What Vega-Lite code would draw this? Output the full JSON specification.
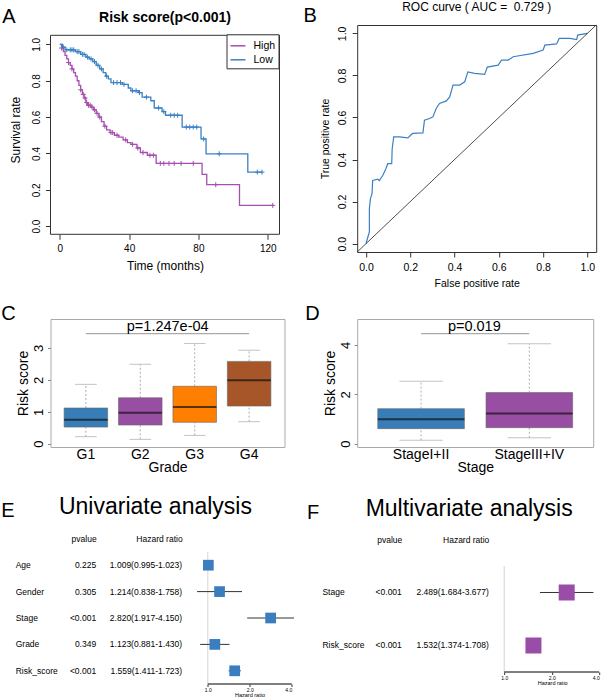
{
"$schema": "https://vega.github.io/schema/vega-lite/v6.json",
"padding": {"left": 0.5, "top": 0, "right": 0, "bottom": 0},
"config": {"font": "Liberation Sans", "view": {"stroke": null}, "axis": {"grid": false, "labelColor": "#000", "titleColor": "#000", "titleFontWeight": "normal", "domainColor": "#000", "tickColor": "#333", "labelFont": "Liberation Sans", "titleFont": "Liberation Sans"}, "title": {"font": "Liberation Sans", "color": "#000"}, "text": {"font": "Liberation Sans", "color": "#000"}},
"datasets": {
"km": [
{"g":"High","t":0,"s":1.0},{"g":"High","t":1,"s":0.98},{"g":"High","t":2,"s":0.96},{"g":"High","t":3,"s":0.94},{"g":"High","t":4,"s":0.92},{"g":"High","t":5,"s":0.90},{"g":"High","t":6,"s":0.885},{"g":"High","t":7,"s":0.865},{"g":"High","t":8,"s":0.845},{"g":"High","t":9,"s":0.825},{"g":"High","t":10,"s":0.80},{"g":"High","t":11,"s":0.775},{"g":"High","t":12,"s":0.75},{"g":"High","t":13,"s":0.725},{"g":"High","t":14,"s":0.705},{"g":"High","t":15,"s":0.68},{"g":"High","t":16,"s":0.665},{"g":"High","t":18,"s":0.655},{"g":"High","t":19.5,"s":0.64},{"g":"High","t":21,"s":0.62},{"g":"High","t":22.5,"s":0.60},{"g":"High","t":24,"s":0.575},{"g":"High","t":25.5,"s":0.55},{"g":"High","t":27,"s":0.53},{"g":"High","t":29,"s":0.515},{"g":"High","t":31.5,"s":0.50},{"g":"High","t":34,"s":0.49},{"g":"High","t":36.5,"s":0.475},{"g":"High","t":39,"s":0.46},{"g":"High","t":41,"s":0.45},{"g":"High","t":44.5,"s":0.43},{"g":"High","t":46.5,"s":0.405},{"g":"High","t":50.5,"s":0.39},{"g":"High","t":55.6,"s":0.345},{"g":"High","t":82.1,"s":0.285},{"g":"High","t":84.8,"s":0.228},{"g":"High","t":103.7,"s":0.114},{"g":"High","t":122.9,"s":0.114},
{"g":"Low","t":0,"s":1.0},{"g":"Low","t":1.5,"s":0.985},{"g":"Low","t":3,"s":0.97},{"g":"Low","t":9,"s":0.96},{"g":"Low","t":12,"s":0.945},{"g":"Low","t":15,"s":0.93},{"g":"Low","t":17,"s":0.92},{"g":"Low","t":19,"s":0.905},{"g":"Low","t":21,"s":0.885},{"g":"Low","t":23,"s":0.865},{"g":"Low","t":25,"s":0.845},{"g":"Low","t":26.5,"s":0.825},{"g":"Low","t":28,"s":0.81},{"g":"Low","t":29.5,"s":0.79},{"g":"Low","t":36,"s":0.78},{"g":"Low","t":39.5,"s":0.76},{"g":"Low","t":41,"s":0.745},{"g":"Low","t":45.5,"s":0.735},{"g":"Low","t":47.5,"s":0.71},{"g":"Low","t":52.5,"s":0.69},{"g":"Low","t":54.5,"s":0.65},{"g":"Low","t":59,"s":0.63},{"g":"Low","t":61,"s":0.61},{"g":"Low","t":70.6,"s":0.545},{"g":"Low","t":81.5,"s":0.48},{"g":"Low","t":84.4,"s":0.398},{"g":"Low","t":108.5,"s":0.297},{"g":"Low","t":116.7,"s":0.297}
],
"cens": [
{"g":"High","t":1,"s":0.98},{"g":"High","t":5,"s":0.90},{"g":"High","t":7,"s":0.865},{"g":"High","t":12,"s":0.75},{"g":"High","t":13.5,"s":0.725},{"g":"High","t":14.5,"s":0.705},{"g":"High","t":15.5,"s":0.68},{"g":"High","t":16.5,"s":0.665},{"g":"High","t":17.5,"s":0.665},{"g":"High","t":18.5,"s":0.655},{"g":"High","t":20,"s":0.64},{"g":"High","t":21.5,"s":0.62},{"g":"High","t":23,"s":0.60},{"g":"High","t":26,"s":0.55},{"g":"High","t":29.5,"s":0.515},{"g":"High","t":30.5,"s":0.515},{"g":"High","t":33,"s":0.50},{"g":"High","t":38,"s":0.475},{"g":"High","t":42,"s":0.45},{"g":"High","t":45,"s":0.43},{"g":"High","t":48,"s":0.405},{"g":"High","t":52,"s":0.39},{"g":"High","t":54,"s":0.39},{"g":"High","t":58,"s":0.345},{"g":"High","t":60,"s":0.345},{"g":"High","t":63,"s":0.345},{"g":"High","t":66,"s":0.345},{"g":"High","t":70,"s":0.345},{"g":"High","t":77,"s":0.345},{"g":"High","t":90,"s":0.228},{"g":"High","t":122.9,"s":0.114},
{"g":"Low","t":2,"s":0.985},{"g":"Low","t":4,"s":0.97},{"g":"Low","t":6,"s":0.97},{"g":"Low","t":7,"s":0.97},{"g":"Low","t":8,"s":0.97},{"g":"Low","t":10,"s":0.96},{"g":"Low","t":11,"s":0.96},{"g":"Low","t":13,"s":0.945},{"g":"Low","t":14,"s":0.945},{"g":"Low","t":16,"s":0.93},{"g":"Low","t":18,"s":0.92},{"g":"Low","t":20,"s":0.905},{"g":"Low","t":22,"s":0.885},{"g":"Low","t":24,"s":0.865},{"g":"Low","t":27,"s":0.825},{"g":"Low","t":31,"s":0.79},{"g":"Low","t":33,"s":0.79},{"g":"Low","t":35,"s":0.79},{"g":"Low","t":37,"s":0.78},{"g":"Low","t":42,"s":0.745},{"g":"Low","t":44,"s":0.745},{"g":"Low","t":46,"s":0.735},{"g":"Low","t":50,"s":0.71},{"g":"Low","t":57,"s":0.65},{"g":"Low","t":60,"s":0.63},{"g":"Low","t":64,"s":0.61},{"g":"Low","t":66,"s":0.61},{"g":"Low","t":68,"s":0.61},{"g":"Low","t":73,"s":0.545},{"g":"Low","t":75,"s":0.545},{"g":"Low","t":77,"s":0.545},{"g":"Low","t":79,"s":0.545},{"g":"Low","t":83,"s":0.48},{"g":"Low","t":92,"s":0.398},{"g":"Low","t":114,"s":0.297},{"g":"Low","t":116.7,"s":0.297}
],
"roc": [
{"i":0,"fpr":0,"tpr":0},{"i":1,"fpr":0.008,"tpr":0.03},{"i":2,"fpr":0.015,"tpr":0.056},{"i":3,"fpr":0.015,"tpr":0.167},{"i":4,"fpr":0.02,"tpr":0.214},{"i":5,"fpr":0.027,"tpr":0.238},{"i":6,"fpr":0.03,"tpr":0.30},{"i":7,"fpr":0.053,"tpr":0.306},{"i":8,"fpr":0.06,"tpr":0.30},{"i":9,"fpr":0.076,"tpr":0.325},{"i":10,"fpr":0.09,"tpr":0.357},{"i":11,"fpr":0.098,"tpr":0.38},{"i":12,"fpr":0.116,"tpr":0.38},{"i":13,"fpr":0.118,"tpr":0.45},{"i":14,"fpr":0.125,"tpr":0.508},{"i":15,"fpr":0.151,"tpr":0.508},{"i":16,"fpr":0.189,"tpr":0.503},{"i":17,"fpr":0.21,"tpr":0.524},{"i":18,"fpr":0.257,"tpr":0.527},{"i":19,"fpr":0.264,"tpr":0.587},{"i":20,"fpr":0.287,"tpr":0.595},{"i":21,"fpr":0.302,"tpr":0.603},{"i":22,"fpr":0.317,"tpr":0.643},{"i":23,"fpr":0.332,"tpr":0.667},{"i":24,"fpr":0.363,"tpr":0.679},{"i":25,"fpr":0.378,"tpr":0.698},{"i":26,"fpr":0.393,"tpr":0.754},{"i":27,"fpr":0.423,"tpr":0.754},{"i":28,"fpr":0.446,"tpr":0.77},{"i":29,"fpr":0.46,"tpr":0.817},{"i":30,"fpr":0.49,"tpr":0.81},{"i":31,"fpr":0.536,"tpr":0.805},{"i":32,"fpr":0.548,"tpr":0.84},{"i":33,"fpr":0.597,"tpr":0.849},{"i":34,"fpr":0.612,"tpr":0.873},{"i":35,"fpr":0.642,"tpr":0.873},{"i":36,"fpr":0.665,"tpr":0.889},{"i":37,"fpr":0.755,"tpr":0.905},{"i":38,"fpr":0.80,"tpr":0.921},{"i":39,"fpr":0.808,"tpr":0.944},{"i":40,"fpr":0.861,"tpr":0.95},{"i":41,"fpr":0.873,"tpr":0.976},{"i":42,"fpr":0.921,"tpr":0.976},{"i":43,"fpr":0.952,"tpr":0.971},{"i":44,"fpr":0.956,"tpr":0.992},{"i":45,"fpr":1,"tpr":1}
],
"boxC": [
{"grade":"G1","lower":0.22,"q1":0.52,"median":0.75,"q3":1.12,"upper":1.86},
{"grade":"G2","lower":0.136,"q1":0.585,"median":0.97,"q3":1.44,"upper":2.49},
{"grade":"G3","lower":0.26,"q1":0.67,"median":1.15,"q3":1.80,"upper":3.14},
{"grade":"G4","lower":0.69,"q1":1.18,"median":1.99,"q3":2.58,"upper":2.93}
],
"boxD": [
{"stage":"StageI+II","lower":0.135,"q1":0.61,"median":0.99,"q3":1.42,"upper":2.53},
{"stage":"StageIII+IV","lower":0.24,"q1":0.65,"median":1.22,"q3":2.07,"upper":4.05}
],
"uni": [
{"var":"Age","pvalue":"0.225","hr":"1.009(0.995-1.023)","est":1.009,"lo":0.995,"hi":1.023},
{"var":"Gender","pvalue":"0.305","hr":"1.214(0.838-1.758)","est":1.214,"lo":0.838,"hi":1.758},
{"var":"Stage","pvalue":"<0.001","hr":"2.820(1.917-4.150)","est":2.820,"lo":1.917,"hi":4.150},
{"var":"Grade","pvalue":"0.349","hr":"1.123(0.881-1.430)","est":1.123,"lo":0.881,"hi":1.430},
{"var":"Risk_score","pvalue":"<0.001","hr":"1.559(1.411-1.723)","est":1.559,"lo":1.411,"hi":1.723}
],
"multi": [
{"var":"Stage","pvalue":"<0.001","hr":"2.489(1.684-3.677)","est":2.489,"lo":1.684,"hi":3.677},
{"var":"Risk_score","pvalue":"<0.001","hr":"1.532(1.374-1.708)","est":1.532,"lo":1.374,"hi":1.708}
]
},
"columns": 2,
"spacing": {"row": 0, "column": 64.7},
"bounds": "flush",
"concat": [
{"width": 1, "height": 1, "data": {"values": [{"lab": "A"}]}, "mark": {"type": "text", "fontSize": 20, "align": "left", "baseline": "alphabetic"},
 "encoding": {"text": {"field": "lab"}, "x": {"value": -48.3}, "y": {"value": -1}}},
{"width": 1, "height": 1, "data": {"values": [{"lab": "B"}]}, "mark": {"type": "text", "fontSize": 20, "align": "left", "baseline": "alphabetic"},
 "encoding": {"text": {"field": "lab"}, "x": {"value": -53.7}, "y": {"value": -2}}},

{"width": 229, "height": 209.3,
 "title": {"text": "Risk score(p<0.001)", "fontSize": 14, "fontWeight": "bold", "offset": 0.5},
 "layer": [
  {"data": {"values": [{}]}, "mark": {"type": "rect", "fillOpacity": 0, "stroke": "#333", "strokeWidth": 1},
   "encoding": {"x": {"datum": -5.4, "type": "quantitative"}, "x2": {"datum": 126.8}, "y": {"datum": -0.045, "type": "quantitative"}, "y2": {"datum": 1.05}}},
  {"data": {"name": "km"}, "mark": {"type": "line", "interpolate": "step-after", "strokeWidth": 1.3},
   "encoding": {
    "x": {"field": "t", "type": "quantitative", "scale": {"domain": [-5.4, 126.8], "nice": false, "zero": false},
          "axis": {"values": [0,20,40,60,80,100,120], "title": "Time (months)", "labelFontSize": 10, "titleFontSize": 12, "tickSize": 5, "labelPadding": 4, "titlePadding": 7, "domain": false}},
    "y": {"field": "s", "type": "quantitative", "scale": {"domain": [-0.045, 1.1067], "nice": false, "zero": false},
          "axis": {"values": [0,0.2,0.4,0.6,0.8,1.0], "format": ".1f", "labelAngle": -90, "labelAlign": "center", "labelBaseline": "bottom", "labelFontSize": 10, "tickSize": 5, "labelPadding": 4, "title": "Survival rate", "titleFontSize": 12, "titlePadding": 9, "domain": false}},
    "color": {"field": "g", "type": "nominal", "scale": {"domain": ["High","Low"], "range": ["#A64FB0","#3C80C3"]},
              "legend": {"title": null, "orient": "none", "legendX": 176, "legendY": 10.3, "strokeColor": "#333", "fillColor": "white", "padding": 3, "symbolType": "stroke", "symbolStrokeWidth": 1.5, "symbolSize": 225, "labelFontSize": 10.5, "rowPadding": 0, "labelOffset": 7}}
   }},
  {"data": {"name": "cens"}, "mark": {"type": "point", "shape": "M-1,0L1,0M0,-1L0,1", "filled": false, "size": 25, "strokeWidth": 1, "opacity": 1},
   "encoding": {"x": {"field": "t", "type": "quantitative"}, "y": {"field": "s", "type": "quantitative"}, "color": {"field": "g", "type": "nominal"}}}
 ]},
{"width": 239, "height": 227, "view": {"stroke": "#333"},
 "title": {"text": "ROC curve ( AUC = \u00a00.729 )", "fontSize": 12, "fontWeight": "normal", "offset": 11},
 "layer": [
  {"data": {"name": "roc"}, "mark": {"type": "line", "color": "#3C80C3", "strokeWidth": 1.2},
   "encoding": {
    "x": {"field": "fpr", "type": "quantitative", "scale": {"domain": [-0.04, 1.04], "nice": false, "zero": false},
          "axis": {"values": [0,0.2,0.4,0.6,0.8,1.0], "format": ".1f", "labelFontSize": 10.5, "tickSize": 5, "labelPadding": 5, "title": "False positive rate", "titleFontSize": 10.5, "titlePadding": 6, "domain": false}},
    "y": {"field": "tpr", "type": "quantitative", "scale": {"domain": [-0.04, 1.04], "nice": false, "zero": false},
          "axis": {"values": [0,0.2,0.4,0.6,0.8,1.0], "format": ".1f", "labelAngle": -90, "labelAlign": "center", "labelBaseline": "bottom", "labelFontSize": 10.5, "tickSize": 5, "labelPadding": 5, "title": "True positive rate", "titleFontSize": 10.5, "titlePadding": 7, "domain": false}},
    "order": {"field": "i", "type": "quantitative"}}},
  {"data": {"values": [{}]}, "mark": {"type": "rule", "color": "#222", "strokeWidth": 0.8},
   "encoding": {"x": {"datum": -0.04, "type": "quantitative"}, "y": {"datum": -0.04, "type": "quantitative"}, "x2": {"datum": 1.04}, "y2": {"datum": 1.04}}}
 ]},

{"width": 1, "height": 67, "data": {"values": [{"lab": "C"}]}, "mark": {"type": "text", "fontSize": 20, "align": "left", "baseline": "alphabetic"},
 "encoding": {"text": {"field": "lab"}, "x": {"value": -49.3}, "y": {"value": 68.3}}},
{"width": 1, "height": 1, "data": {"values": [{"lab": "D"}]}, "mark": {"type": "text", "fontSize": 20, "align": "left", "baseline": "alphabetic"},
 "encoding": {"text": {"field": "lab"}, "x": {"value": -52}, "y": {"value": 68.3}}},

{"width": 234, "height": 128, "view": {"stroke": "#AAA"},
 "layer": [
  {"data": {"name": "boxC"}, "mark": {"type": "rule", "color": "#999", "strokeDash": [2,2], "strokeWidth": 0.8},
   "encoding": {
    "x": {"field": "grade", "type": "nominal", "scale": {"domain": ["G1","G2","G3","G4"], "paddingInner": 0.2, "paddingOuter": 0.25},
          "axis": {"title": "Grade", "titleFontSize": 14, "labelFontSize": 14, "ticks": false, "domain": false, "labelPadding": 0, "titlePadding": -1, "labelAngle": 0}},
    "y": {"field": "lower", "type": "quantitative", "scale": {"domain": [-0.103, 3.909], "nice": false, "zero": false},
          "axis": {"values": [0,1,2,3], "labelAngle": -90, "labelAlign": "center", "labelBaseline": "bottom", "labelFontSize": 13, "tickSize": 3, "tickColor": "#888", "domain": false, "labelPadding": 2, "title": "Risk score", "titleFontSize": 14, "titlePadding": 2}},
    "y2": {"field": "q1"}}},
  {"data": {"name": "boxC"}, "mark": {"type": "rule", "color": "#999", "strokeDash": [2,2], "strokeWidth": 0.8},
   "encoding": {"x": {"field": "grade", "type": "nominal"}, "y": {"field": "q3", "type": "quantitative"}, "y2": {"field": "upper"}}},
  {"data": {"name": "boxC"}, "mark": {"type": "tick", "color": "#AAA", "size": 21.7, "thickness": 1},
   "encoding": {"x": {"field": "grade", "type": "nominal"}, "y": {"field": "lower", "type": "quantitative"}}},
  {"data": {"name": "boxC"}, "mark": {"type": "tick", "color": "#AAA", "size": 21.7, "thickness": 1},
   "encoding": {"x": {"field": "grade", "type": "nominal"}, "y": {"field": "upper", "type": "quantitative"}}},
  {"data": {"name": "boxC"}, "mark": {"type": "bar", "stroke": "#666", "strokeWidth": 0.6},
   "encoding": {"x": {"field": "grade", "type": "nominal"}, "y": {"field": "q1", "type": "quantitative"}, "y2": {"field": "q3"},
                "fill": {"field": "grade", "type": "nominal", "scale": {"domain": ["G1","G2","G3","G4"], "range": ["#377EB8","#984EA3","#FF7F00","#A65628"]}, "legend": null}}},
  {"data": {"name": "boxC"}, "mark": {"type": "tick", "color": "#111", "size": 43.5, "thickness": 2},
   "encoding": {"x": {"field": "grade", "type": "nominal"}, "y": {"field": "median", "type": "quantitative"}}},
  {"data": {"values": [{}]}, "mark": {"type": "rule", "color": "#AAA", "strokeWidth": 1.2},
   "encoding": {"x": {"datum": "G1", "type": "nominal", "bandPosition": 0.5}, "x2": {"datum": "G4", "bandPosition": 0.5}, "y": {"datum": 3.45, "type": "quantitative"}}},
  {"data": {"values": [{"lab": "p=1.247e-04"}]}, "mark": {"type": "text", "fontSize": 14.5, "baseline": "bottom", "align": "center"},
   "encoding": {"text": {"field": "lab"}, "x": {"datum": "G2", "type": "nominal", "bandPosition": 1.13}, "y": {"datum": 3.45, "type": "quantitative"}}}
 ]},
{"width": 236, "height": 128, "view": {"stroke": "#AAA"},
 "layer": [
  {"data": {"name": "boxD"}, "mark": {"type": "rule", "color": "#999", "strokeDash": [2,2], "strokeWidth": 0.8},
   "encoding": {
    "x": {"field": "stage", "type": "nominal", "scale": {"domain": ["StageI+II","StageIII+IV"], "paddingInner": 0.2, "paddingOuter": 0.19},
          "axis": {"title": "Stage", "titleFontSize": 14, "labelFontSize": 14, "ticks": false, "domain": false, "labelPadding": 0, "titlePadding": -1, "labelAngle": 0}},
    "y": {"field": "lower", "type": "quantitative", "scale": {"domain": [-0.134, 5.054], "nice": false, "zero": false},
          "axis": {"values": [0,1,2,3,4,5], "labelAngle": -90, "labelAlign": "center", "labelBaseline": "bottom", "labelFontSize": 13, "tickSize": 3, "tickColor": "#888", "domain": false, "labelPadding": 2, "title": "Risk score", "titleFontSize": 14, "titlePadding": 2}},
    "y2": {"field": "q1"}}},
  {"data": {"name": "boxD"}, "mark": {"type": "rule", "color": "#999", "strokeDash": [2,2], "strokeWidth": 0.8},
   "encoding": {"x": {"field": "stage", "type": "nominal"}, "y": {"field": "q3", "type": "quantitative"}, "y2": {"field": "upper"}}},
  {"data": {"name": "boxD"}, "mark": {"type": "tick", "color": "#AAA", "size": 43.3, "thickness": 1},
   "encoding": {"x": {"field": "stage", "type": "nominal"}, "y": {"field": "lower", "type": "quantitative"}}},
  {"data": {"name": "boxD"}, "mark": {"type": "tick", "color": "#AAA", "size": 43.3, "thickness": 1},
   "encoding": {"x": {"field": "stage", "type": "nominal"}, "y": {"field": "upper", "type": "quantitative"}}},
  {"data": {"name": "boxD"}, "mark": {"type": "bar", "stroke": "#666", "strokeWidth": 0.6},
   "encoding": {"x": {"field": "stage", "type": "nominal"}, "y": {"field": "q1", "type": "quantitative"}, "y2": {"field": "q3"},
                "fill": {"field": "stage", "type": "nominal", "scale": {"domain": ["StageI+II","StageIII+IV"], "range": ["#377EB8","#984EA3"]}, "legend": null}}},
  {"data": {"name": "boxD"}, "mark": {"type": "tick", "color": "#111", "size": 86.7, "thickness": 2},
   "encoding": {"x": {"field": "stage", "type": "nominal"}, "y": {"field": "median", "type": "quantitative"}}},
  {"data": {"values": [{}]}, "mark": {"type": "rule", "color": "#AAA", "strokeWidth": 1.2},
   "encoding": {"x": {"datum": "StageI+II", "type": "nominal", "bandPosition": 0.5}, "x2": {"datum": "StageIII+IV", "bandPosition": 0.5}, "y": {"datum": 4.46, "type": "quantitative"}}},
  {"data": {"values": [{"lab": "p=0.019"}]}, "mark": {"type": "text", "fontSize": 14.5, "baseline": "bottom", "align": "center"},
   "encoding": {"text": {"field": "lab"}, "x": {"datum": "StageI+II", "type": "nominal", "bandPosition": 1.115}, "y": {"datum": 4.46, "type": "quantitative"}}}
 ]},

{"width": 1, "height": 104.5, "data": {"values": [{"lab": "E"}]}, "mark": {"type": "text", "fontSize": 20, "align": "left", "baseline": "alphabetic"},
 "encoding": {"text": {"field": "lab"}, "x": {"value": -49.3}, "y": {"value": 70}}},
{"width": 1, "height": 1, "data": {"values": [{"lab": "F"}]}, "mark": {"type": "text", "fontSize": 20, "align": "left", "baseline": "alphabetic"},
 "encoding": {"text": {"field": "lab"}, "x": {"value": -50.3}, "y": {"value": 71.7}}},

{"width": 241.3, "height": 132,
 "title": {"text": "Univariate analysis", "fontSize": 23, "fontWeight": "normal", "anchor": "middle", "offset": 15, "dx": -15.7},
 "resolve": {"scale": {"x": "independent"}, "axis": {"x": "independent"}},
 "layer": [
  {"layer": [
    {"data": {"name": "uni"}, "mark": {"type": "text", "align": "right", "fontSize": 8.5},
     "encoding": {
      "x": {"datum": "pvalue", "type": "nominal", "scale": {"type": "point", "domain": ["pvalue","hr"], "padding": 0.903, "align": 0.294},
            "axis": {"orient": "top", "labelExpr": "datum.value == 'hr' ? 'Hazard ratio' : 'pvalue'", "labelAngle": 0, "labelAlign": "right", "labelBaseline": "bottom", "ticks": false, "domain": false, "labelPadding": 9, "labelFontSize": 8.5, "title": null}},
      "y": {"field": "var", "type": "nominal", "scale": {"domain": ["Age","Gender","Stage","Grade","Risk_score"], "paddingInner": 0, "paddingOuter": 0},
            "axis": {"orient": "left", "labelAlign": "left", "labelPadding": 35.3, "ticks": false, "domain": false, "labelFontSize": 8.5, "labelColor": "#000", "title": null}},
      "text": {"field": "pvalue"}}},
    {"data": {"name": "uni"}, "mark": {"type": "text", "align": "right", "fontSize": 8.5},
     "encoding": {"x": {"datum": "hr", "type": "nominal"}, "y": {"field": "var", "type": "nominal"}, "text": {"field": "hr"}}}
  ]},
  {"layer": [
    {"data": {"values": [{}]}, "mark": {"type": "rule", "color": "#D4D4D4", "strokeWidth": 1},
     "encoding": {"x": {"datum": 1, "type": "quantitative", "scale": {"type": "log", "base": 2, "domain": [0.07457, 4], "nice": false},
                        "axis": {"values": [1,2,4], "format": ".1f", "labelFontSize": 5, "tickSize": 2.5, "labelPadding": 1, "domain": false, "title": "Hazard ratio", "titleFontSize": 5.5, "titlePadding": 0, "titleX": 199}}}},
    {"data": {"values": [{}]}, "mark": {"type": "rule", "color": "#000", "strokeWidth": 1},
     "encoding": {"x": {"datum": 1, "type": "quantitative"}, "x2": {"datum": 4}, "y": {"datum": "Risk_score", "type": "nominal", "bandPosition": 1}}},
    {"data": {"name": "uni"}, "mark": {"type": "rule", "color": "#333", "strokeWidth": 1},
     "encoding": {"x": {"field": "lo", "type": "quantitative"}, "x2": {"field": "hi"}, "y": {"field": "var", "type": "nominal"}}},
    {"data": {"name": "uni"}, "mark": {"type": "square", "filled": true, "size": 115, "color": "#3A7EC0", "opacity": 1},
     "encoding": {"x": {"field": "est", "type": "quantitative"}, "y": {"field": "var", "type": "nominal"}}}
  ]}
 ]},
{"width": 242, "height": 120,
 "title": {"text": "Multivariate analysis", "fontSize": 23, "fontWeight": "normal", "anchor": "middle", "offset": 14, "dx": -9},
 "resolve": {"scale": {"x": "independent"}, "axis": {"x": "independent"}},
 "layer": [
  {"layer": [
    {"data": {"name": "multi"}, "mark": {"type": "text", "align": "right", "fontSize": 8.5},
     "encoding": {
      "x": {"datum": "pvalue", "type": "nominal", "scale": {"type": "point", "domain": ["pvalue","hr"], "padding": 0.891, "align": 0.288},
            "axis": {"orient": "top", "labelExpr": "datum.value == 'hr' ? 'Hazard ratio' : 'pvalue'", "labelAngle": 0, "labelAlign": "right", "labelBaseline": "bottom", "ticks": false, "domain": false, "labelPadding": 8, "labelFontSize": 8.5, "title": null}},
      "y": {"field": "var", "type": "nominal", "scale": {"domain": ["Stage","Risk_score"], "paddingInner": 0, "paddingOuter": 0.132, "align": 1},
            "axis": {"orient": "left", "labelAlign": "left", "labelPadding": 35.3, "ticks": false, "domain": false, "labelFontSize": 8.5, "labelColor": "#000", "title": null}},
      "text": {"field": "pvalue"}}},
    {"data": {"name": "multi"}, "mark": {"type": "text", "align": "right", "fontSize": 8.5},
     "encoding": {"x": {"datum": "hr", "type": "nominal"}, "y": {"field": "var", "type": "nominal"}, "text": {"field": "hr"}}}
  ]},
  {"layer": [
    {"data": {"values": [{}]}, "mark": {"type": "rule", "color": "#D4D4D4", "strokeWidth": 1},
     "encoding": {"x": {"datum": 1, "type": "quantitative", "scale": {"type": "log", "base": 2, "domain": [0.11698, 4], "nice": false},
                        "axis": {"values": [1,2,4], "format": ".1f", "labelFontSize": 5, "tickSize": 2.5, "labelPadding": 1, "domain": false, "title": "Hazard ratio", "titleFontSize": 5.5, "titlePadding": 0, "titleX": 195}},
                  "y": {"datum": "Stage", "type": "nominal", "bandPosition": 0}, "y2": {"datum": "Risk_score", "bandPosition": 1}}},
    {"data": {"values": [{}]}, "mark": {"type": "rule", "color": "#000", "strokeWidth": 1},
     "encoding": {"x": {"datum": 1, "type": "quantitative"}, "x2": {"datum": 4}, "y": {"datum": "Risk_score", "type": "nominal", "bandPosition": 1}}},
    {"data": {"name": "multi"}, "mark": {"type": "rule", "color": "#333", "strokeWidth": 1},
     "encoding": {"x": {"field": "lo", "type": "quantitative"}, "x2": {"field": "hi"}, "y": {"field": "var", "type": "nominal"}}},
    {"data": {"name": "multi"}, "mark": {"type": "square", "filled": true, "size": 256, "color": "#9A4DA6", "opacity": 1},
     "encoding": {"x": {"field": "est", "type": "quantitative"}, "y": {"field": "var", "type": "nominal"}}}
  ]}
 ]}
]
}
